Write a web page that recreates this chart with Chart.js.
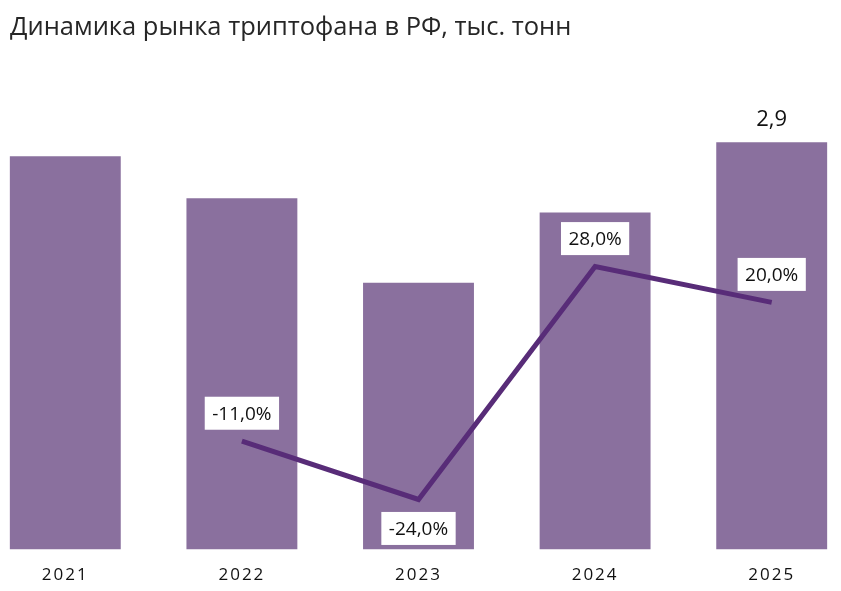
<!DOCTYPE html>
<html>
<head>
<meta charset="utf-8">
<script src="https://cdn.jsdelivr.net/npm/chart.js@4"></script>
<style>
  body { margin: 0; width: 841px; height: 591px; overflow: hidden; background: #fff; position: relative; }
  #title { position: absolute; left: 10px; top: 8px; font-family: "Open Sans", sans-serif; font-size: 25.5px; color: #262626; white-space: nowrap; z-index: 2; }
  #wrap { position: absolute; left: -23px; top: 0; width: 884px; height: 607px; }
</style>
</head>
<body>
<div id="title">Динамика рынка триптофана в РФ, тыс. тонн</div>
<div id="wrap"><canvas id="grafik"></canvas></div>
<script>
// данные
var yillar = ['2021', '2022', '2023', '2024', '2025'];
var hacim = [2.8, 2.5, 1.9, 2.4, 2.9];
var degisim = [null, -11.0, -24.0, 28.0, 20.0];
var hacimEtiket = [false, false, false, false, true];
var degisimYer = [null, 'ust', 'alt', 'ust', 'ust'];

function virgul(v, d) {
  return v.toFixed(d).replace('.', ',');
}

var etiketPlugin = {
  id: 'etiketler',
  beforeDraw: function (chart) {
    chart.ctx.letterSpacing = '2px';
  },
  beforeDatasetsDraw: function (chart) {
    chart.ctx.letterSpacing = '0px';
  },
  afterDatasetsDraw: function (chart) {
    var ctx = chart.ctx;
    ctx.save();
    ctx.letterSpacing = '0px';
    ctx.textAlign = 'center';
    ctx.textBaseline = 'middle';

    // bar label
    var barMeta = chart.getDatasetMeta(0);
    ctx.font = '22px "Open Sans"';
    ctx.fillStyle = '#111';
    for (var i = 0; i < hacim.length; i++) {
      if (!hacimEtiket[i]) continue;
      var b = barMeta.data[i];
      ctx.fillText(virgul(hacim[i], 1), b.x, b.y - 22);
    }

    // line labels
    var lineMeta = chart.getDatasetMeta(1);
    ctx.font = '19px "Open Sans"';
    for (var j = 0; j < degisim.length; j++) {
      if (degisim[j] === null) continue;
      var p = lineMeta.data[j];
      var txt = virgul(degisim[j], 1) + '%';
      var w = ctx.measureText(txt).width + 15;
      var h = 33;
      var cy = degisimYer[j] === 'alt' ? p.y + 29 : p.y - 28;
      ctx.fillStyle = '#fff';
      ctx.fillRect(p.x - w / 2, cy - h / 2, w, h);
      ctx.fillStyle = '#111';
      ctx.fillText(txt, p.x, cy + 1);
    }
    ctx.restore();
  }
};

var ctx = document.getElementById('grafik').getContext('2d');
var grafik = new Chart(ctx, {
  data: {
    labels: yillar,
    datasets: [
      {
        type: 'bar',
        data: hacim,
        backgroundColor: '#8a709e',
        categoryPercentage: 1,
        barPercentage: 0.628,
        yAxisID: 'y',
        order: 2
      },
      {
        type: 'line',
        data: degisim,
        borderColor: '#582c78',
        borderWidth: 5,
        pointRadius: 0,
        tension: 0,
        yAxisID: 'y2',
        order: 1
      }
    ]
  },
  options: {
    responsive: true,
    maintainAspectRatio: false,
    animation: false,
    layout: { padding: { top: 100, bottom: 7, left: 0, right: 1 } },
    plugins: {
      legend: { display: false },
      tooltip: { enabled: false }
    },
    scales: {
      x: {
        grid: { display: false, drawTicks: false },
        border: { display: false },
        ticks: {
          padding: 15,
          color: '#111',
          font: { family: 'Open Sans', size: 17 }
        }
      },
      y: { display: false, min: 0, max: 3.2 },
      y2: { display: false, min: -35.2, max: 65.2 }
    }
  },
  plugins: [etiketPlugin]
});
</script>
</body>
</html>
